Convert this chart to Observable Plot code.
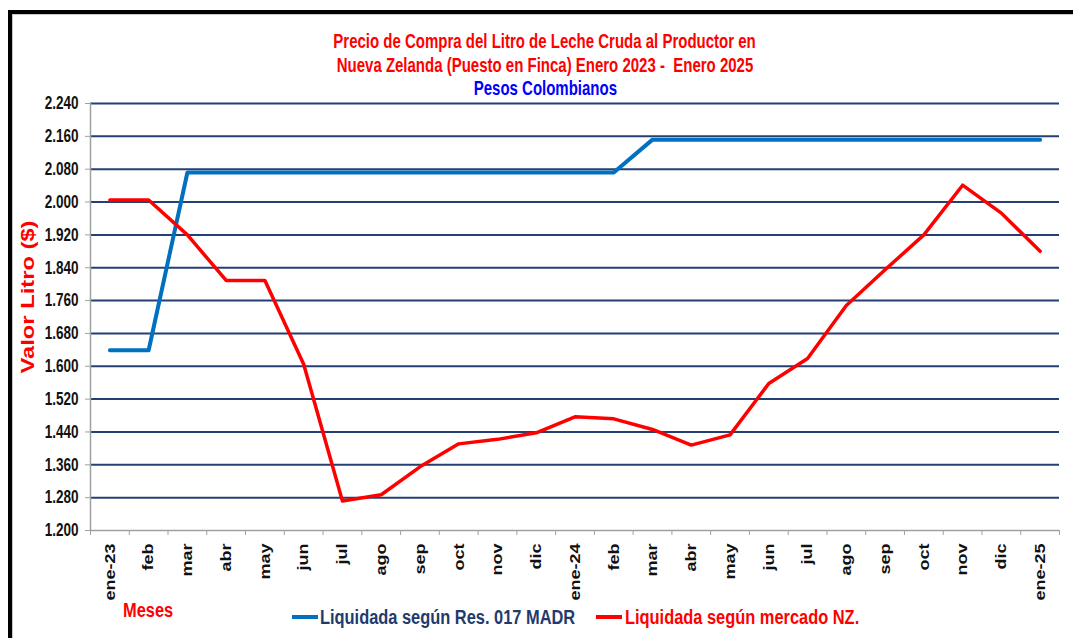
<!DOCTYPE html>
<html><head><meta charset="utf-8">
<script src="https://cdn.jsdelivr.net/npm/d3@7"></script>
<script src="https://cdn.jsdelivr.net/npm/@observablehq/plot@0.6"></script>
<style>
html,body{margin:0;padding:0;background:#fff;overflow:hidden;}
body{width:1073px;height:638px;position:relative;font-family:"Liberation Sans",Arial,sans-serif;}
#frame{position:absolute;left:8px;top:10px;width:1100px;height:700px;border-left:4px solid #000;border-top:4px solid #000;box-shadow:inset 1px 1px 0 #c8c8c8;pointer-events:none;z-index:5;}
#title{position:relative;height:92px;}
.tl{position:absolute;left:0;width:1090px;text-align:center;font-weight:bold;font-size:18.3px;line-height:20px;}
.tl span{display:inline-block;transform:scale(0.82,1.08);white-space:pre;}
#chart{position:relative;height:508px;}
#chart svg{overflow:visible;display:block;}
#legend{position:relative;height:38px;}
.lg{position:absolute;font-weight:bold;font-size:20px;line-height:24px;white-space:nowrap;transform-origin:left center;transform:scaleX(0.82);}
.sw{position:absolute;height:4px;width:26px;}
</style>
</head>
<body>
<div id="frame"></div>
<div id="title"></div>
<div id="chart"></div>
<div id="legend"></div>
<script>
const months = ["ene-23","feb","mar","abr","may","jun","jul","ago","sep","oct","nov","dic","ene-24","feb","mar","abr","may","jun","jul","ago","sep","oct","nov","dic","ene-25"];
const madr = [1639,1639,2072,2072,2072,2072,2072,2072,2072,2072,2072,2072,2072,2072,2152,2152,2152,2152,2152,2152,2152,2152,2152,2152,2152];
const nz = [2005,2005,1920,1809,1809,1605,1272,1287,1355,1411,1422,1438,1477,1472,1446,1408,1433,1558,1619,1748,1835,1920,2041,1973,1880];
const yTicks = [1200,1280,1360,1440,1520,1600,1680,1760,1840,1920,2000,2080,2160,2240];
const titleLines = ["Precio de Compra del Litro de Leche Cruda al Productor en","Nueva Zelanda (Puesto en Finca) Enero 2023 -  Enero 2025","Pesos Colombianos"];
const titleColors = ["#ff0000","#ff0000","#0000ff"];
const seriesNames = ["Liquidada según Res. 017 MADR","Liquidada según mercado NZ."];
const seriesColors = ["#0070c0","#ff0000"];
const seriesTextColors = ["#1f3b6e","#ff0000"];
const yLabel = "Valor Litro ($)";
const xLabel = "Meses";

// Title
const titleTops = [32,56,79];
const tdiv = document.getElementById("title");
titleLines.forEach((t,k)=>{
  const d = document.createElement("div");
  d.className="tl"; d.style.top = titleTops[k]+"px"; d.style.color = titleColors[k];
  const s = document.createElement("span"); s.textContent = t; d.appendChild(s);
  tdiv.appendChild(d);
});

const loc = d3.formatLocale({decimal:",", thousands:".", grouping:[3], currency:["$",""]});
const fmt = loc.format(",d");
const rows = months.map((m,i)=>({i, m, madr: madr[i], nz: nz[i]}));

const plot = Plot.plot({
  width:1073, height:508,
  marginLeft:90, marginRight:14, marginTop:11, marginBottom:70,
  style:{fontFamily:"Liberation Sans, Arial, sans-serif", background:"transparent", overflow:"visible"},
  x:{type:"linear", domain:[-0.5, months.length-0.5], axis:null},
  y:{domain:[1200,2240], axis:null},
  marks:[
    Plot.ruleY(yTicks.slice(1), {stroke:"#243f74", strokeWidth:2}),
    Plot.ruleY([1200], {stroke:"#a0a0a0", strokeWidth:1.5}),
    Plot.ruleX([-0.5], {y1:1200, y2:2240, stroke:"#a0a0a0", strokeWidth:1.5}),
    Plot.axisY({ticks:yTicks, tickFormat:fmt, tickSize:5, tickPadding:7, stroke:"#a0a0a0", fill:"#111", fontSize:16.5, fontWeight:"bold", label:null}),
    Plot.axisX({ticks:d3.range(-0.5, months.length), tickSize:5, tickFormat:()=>"", stroke:"#a0a0a0", label:null}),
    Plot.axisX({ticks:d3.range(months.length), tickSize:0, tickPadding:13, tickFormat:i=>months[i], tickRotate:-90, fill:"#111", fontSize:15, fontWeight:"bold", label:null}),
    Plot.line(rows, {x:"i", y:"madr", stroke:seriesColors[0], strokeWidth:4}),
    Plot.line(rows, {x:"i", y:"nz", stroke:seriesColors[1], strokeWidth:3.5}),
    Plot.text([yLabel], {frameAnchor:"left", textAnchor:"middle", dx:-63, dy:-20, rotate:-90, fill:"#ff0000", fontSize:19, fontWeight:"bold"})
  ]
});
document.getElementById("chart").appendChild(plot);

function stretch(sel, sx, sy){
  plot.querySelectorAll(sel).forEach(t=>{
    const x = +t.getAttribute("x")||0, y = +t.getAttribute("y")||0;
    const tr = t.getAttribute("transform")||"";
    t.setAttribute("transform", `${tr} translate(${x},${y}) scale(${sx},${sy}) translate(${-x},${-y})`);
  });
}
stretch('[aria-label="y-axis tick label"] text', 0.82, 1.1);
stretch('[aria-label="x-axis tick label"] text', 1.2, 1);
stretch('[aria-label="text"] text', 1.25, 1);

// Legend row
const leg = document.getElementById("legend");
function addText(txt, left, top, color){
  const d = document.createElement("div"); d.className="lg";
  d.style.left=left+"px"; d.style.top=top+"px"; d.style.color=color; d.textContent=txt;
  leg.appendChild(d);
}
function addSwatch(left, top, color){
  const d = document.createElement("div"); d.className="sw";
  d.style.left=left+"px"; d.style.top=top+"px"; d.style.background=color;
  leg.appendChild(d);
}
addText(xLabel, 123, -2, "#ff0000");
addSwatch(292, 15, seriesColors[0]);
addText(seriesNames[0], 320, 5, seriesTextColors[0]);
addSwatch(596, 15, seriesColors[1]);
addText(seriesNames[1], 625, 5, seriesTextColors[1]);
</script>
</body></html>
